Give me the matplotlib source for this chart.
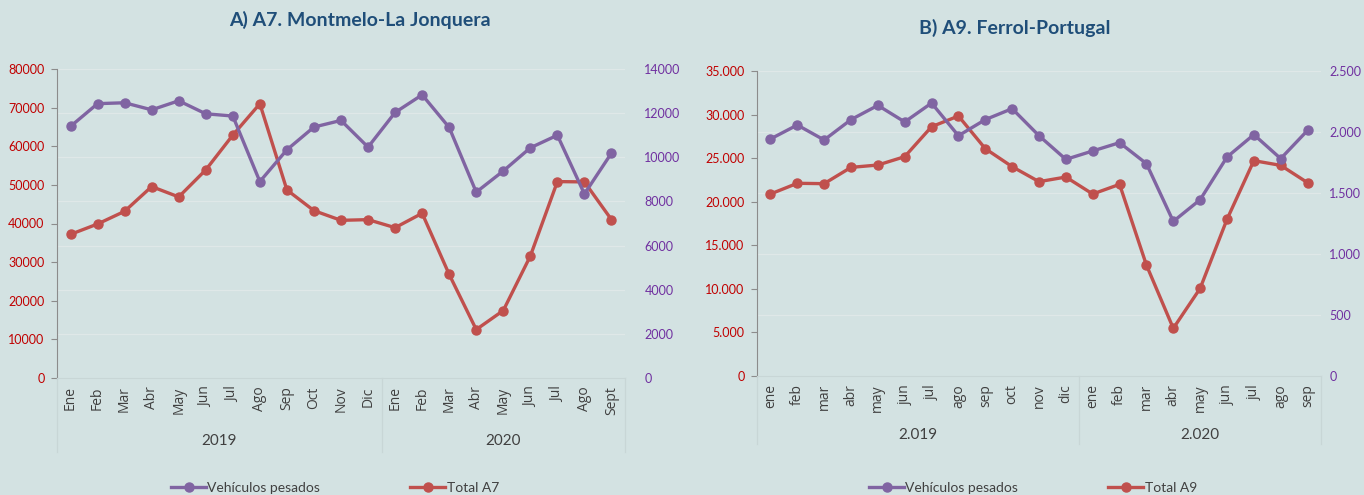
import matplotlib.pyplot as plt
import matplotlib.transforms as mtrans
from matplotlib.lines import Line2D
from matplotlib.ticker import MultipleLocator, FuncFormatter

plt.rcParams['font.family'] = ['Lato', 'DejaVu Sans']

FONDO = '#d3e2e2'
MORADO = '#8064a2'
ROJO = '#c0504d'
GRIS_TXT = '#404040'

# A7 Montmelo-La Jonquera
meses_a7 = ['Ene', 'Feb', 'Mar', 'Abr', 'May', 'Jun', 'Jul', 'Ago', 'Sep', 'Oct', 'Nov', 'Dic',
            'Ene', 'Feb', 'Mar', 'Abr', 'May', 'Jun', 'Jul', 'Ago', 'Sept']
anios_a7 = ['2019', '2020']
total_a7 = [37190, 39870, 43160, 49560, 46880, 53880, 62880, 71000, 48690, 43330, 40820, 41000,
            38920, 42640, 26810, 12540, 17470, 31570, 50850, 50770, 41000]
pesados_a7 = [11400, 12430, 12470, 12150, 12560, 11970, 11870, 8900, 10340, 11370, 11670, 10460,
              12030, 12830, 11350, 8420, 9380, 10430, 11000, 8340, 10190]

# A9 Ferrol-Portugal
meses_a9 = ['ene', 'feb', 'mar', 'abr', 'may', 'jun', 'jul', 'ago', 'sep', 'oct', 'nov', 'dic',
            'ene', 'feb', 'mar', 'abr', 'may', 'jun', 'jul', 'ago', 'sep']
anios_a9 = ['2.019', '2.020']
total_a9 = [20870, 22100, 22060, 23930, 24200, 25160, 28600, 29830, 26080, 24010, 22290, 22820,
            20870, 21980, 12710, 5440, 10030, 17960, 24700, 24160, 22170]
pesados_a9 = [1942, 2057, 1934, 2101, 2218, 2082, 2237, 1969, 2101, 2191, 1969, 1775,
              1844, 1912, 1740, 1266, 1444, 1794, 1978, 1781, 2013]

W, H = 1364, 495
fig = plt.figure(figsize=(W / 100, H / 100), dpi=100, facecolor=FONDO)


def miles(v, pos):
    return f"{v:,.0f}".replace(",", ".")


def panel(px, titulo, titulo_xy, meses, anios, total, pesados, lim_izq, paso_izq,
          lim_der, paso_der, fmt, pad_der, anio_y, sep_y, etiquetas, ley_x):
    x0, y_top, ancho, y_bot = px
    ax = fig.add_axes([x0 / W, 1 - y_bot / H, ancho / W, (y_bot - y_top) / H])
    ax.set_facecolor(FONDO)
    ax2 = ax.twinx()

    x = list(range(len(meses)))
    ax.plot(x, total, color=ROJO, lw=2.4, marker='o', ms=6.5, zorder=3)
    ax2.plot(x, pesados, color=MORADO, lw=2.4, marker='o', ms=6.5, zorder=3)

    ax.set_xlim(-0.5, len(meses) - 0.5)
    ax.set_ylim(0, lim_izq)
    ax2.set_ylim(0, lim_der)
    ax.yaxis.set_major_locator(MultipleLocator(paso_izq))
    ax2.yaxis.set_major_locator(MultipleLocator(paso_der))
    if fmt:
        ax.yaxis.set_major_formatter(FuncFormatter(miles))
        ax2.yaxis.set_major_formatter(FuncFormatter(miles))

    # lineas de division suaves (siguen al eje derecho)
    t = paso_der
    while t <= lim_der:
        ax.axhline(t * lim_izq / lim_der, color='#dfe8e8', lw=0.9, zorder=0)
        t += paso_der

    for s in ['top', 'right']:
        ax.spines[s].set_visible(False)
    for s in ax2.spines.values():
        s.set_visible(False)
    ax.spines['left'].set_color('#8c8c8c')
    ax.spines['bottom'].set_color('#c8d6d6')

    ax.tick_params(axis='y', colors='#8c8c8c', labelcolor='#c00000', length=4,
                   labelsize=9, pad=5)
    ax2.tick_params(axis='y', length=0, labelcolor='#7030a0', labelsize=9, pad=pad_der)
    ax.set_xticks(x)
    ax.set_xticklabels(meses, rotation=90, fontsize=10, color=GRIS_TXT,
                       family=['Open Sans', 'DejaVu Sans'])
    ax.tick_params(axis='x', length=0, pad=6)

    # agrupacion por anio
    tr = mtrans.blended_transform_factory(ax.transData, fig.transFigure)
    n1 = 12
    limites = [-0.5, n1 - 0.5, len(meses) - 0.5]
    for b in limites:
        ax.plot([b, b], [1 - y_bot / H, 1 - sep_y / H], transform=tr, color='#c8d6d6',
                lw=0.9, clip_on=False)
    for i, a in enumerate(anios):
        ax.text((limites[i] + limites[i + 1]) / 2, 1 - anio_y / H, a, transform=tr,
                ha='center', va='center', fontsize=11, color=GRIS_TXT)

    fig.text(titulo_xy[0] / W, 1 - titulo_xy[1] / H, titulo, ha='center', va='center',
             fontsize=14, fontweight='bold', color='#1f4e79')

    manejadores = [Line2D([], [], color=MORADO, lw=2.4, marker='o', ms=6.5),
                   Line2D([], [], color=ROJO, lw=2.4, marker='o', ms=6.5)]
    fig.legend(manejadores, etiquetas, loc='center', bbox_to_anchor=(ley_x / W, 1 - 488 / H),
               ncol=2, frameon=False, fontsize=10, handlelength=2.5, handletextpad=0.1,
               columnspacing=6.5, labelcolor=GRIS_TXT)


panel((57, 69, 568, 378), 'A) A7. Montmelo-La Jonquera', (360, 20), meses_a7, anios_a7,
      total_a7, pesados_a7, 80000, 10000, 14000, 2000, False, 14, 441, 452,
      ['Vehículos pesados', 'Total A7'], 335)
panel((757, 71, 564, 375.7), 'B) A9. Ferrol-Portugal', (1015, 28), meses_a9, anios_a9,
      total_a9, pesados_a9, 35000, 5000, 2500, 500, True, 6, 435, 444,
      ['Vehículos pesados', 'Total A9'], 1033)

fig.savefig('out.png', dpi=100, facecolor=FONDO)
